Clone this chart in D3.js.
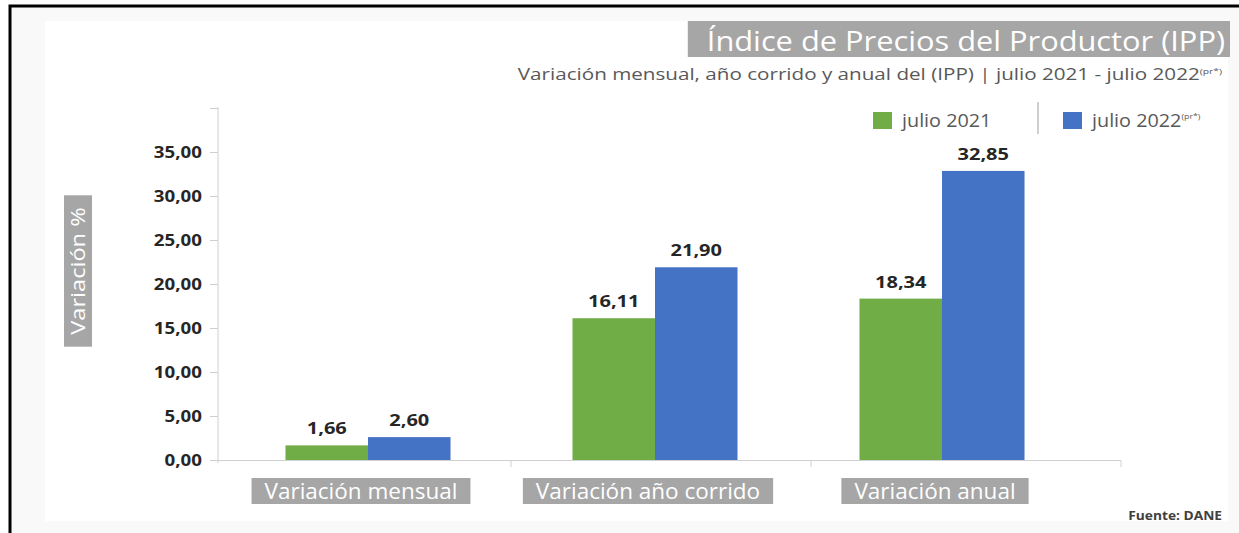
<!DOCTYPE html>
<html>
<head>
<meta charset="utf-8">
<script src="https://cdn.jsdelivr.net/npm/d3@7"></script>
<style>
  body { margin: 0; background: #fff; }
  svg { display: block; font-family: "Open Sans", sans-serif; }
</style>
</head>
<body>
<svg id="chart" width="1239" height="533"></svg>
<script>
// data
var categories = ["Variación mensual", "Variación año corrido", "Variación anual"];
var series = ["julio 2021", "julio 2022"];
var values2021 = [1.66, 16.11, 18.34];
var values2022 = [2.60, 21.90, 32.85];
var yTicks = [0, 5, 10, 15, 20, 25, 30, 35, 40];
var colors = ["#70ad47", "#4472c4"];

var svg = d3.select("#chart");

// es-CO style numbers: 1,66
var locale = d3.formatLocale({decimal: ",", thousands: ".", grouping: [3], currency: ["$", ""]});
var fmt = locale.format(".2f");

// the source picture is a bit stretched sideways, so text gets a horizontal scale
function wideText(parent, x, y, k, anchor) {
  var g = parent.append("g").attr("transform", "translate(" + x + "," + y + ") scale(" + k + ",1)");
  return g.append("text").attr("text-anchor", anchor || "start");
}

// frame + background
svg.append("rect").attr("x", 10).attr("y", 6).attr("width", 1240).attr("height", 540)
  .attr("fill", "#f9f9f9").attr("stroke", "#000").attr("stroke-width", 3);
svg.append("rect").attr("x", 45).attr("y", 21).attr("width", 1183).attr("height", 500).attr("fill", "#fff");

// scales
var y = d3.scaleLinear().domain([0, 40]).range([460, 108]);
var x0 = d3.scaleBand().domain(categories).range([224.5, 1085.5])
  .paddingInner(0.425).paddingOuter(0.2125);
var x1 = d3.scaleBand().domain(series).range([0, x0.bandwidth()]);
// category divisions on the x axis
var xTick = d3.scaleBand().domain(categories).range([211, 1111]);

// y axis
var kTick = 1.17;
var yAxis = d3.axisLeft(y).tickValues(yTicks).tickSize(8).tickPadding(8)
  .tickFormat(function(d) { return d === 40 ? "" : fmt(d); });
var gy = svg.append("g").attr("transform", "translate(218,0)").call(yAxis);
gy.select(".domain").attr("stroke", "#d0d0d0").attr("d", "M0,107V463");
gy.selectAll(".tick line").attr("stroke", "#d0d0d0");
gy.selectAll(".tick text").attr("fill", "#262626").attr("font-size", 16)
  .attr("font-weight", "bold").attr("font-family", "Open Sans")
  .attr("x", -16 / kTick).attr("transform", "scale(" + kTick + ",1)");

// x axis line + ticks
svg.append("line").attr("x1", 210).attr("x2", 1121).attr("y1", 460.5).attr("y2", 460.5)
  .attr("stroke", "#d0d0d0");
svg.selectAll(".xtick").data(categories.slice(1).concat(["end"])).enter().append("line")
  .attr("class", "xtick")
  .attr("x1", function(d) { return d === "end" ? 1121 : xTick(d); })
  .attr("x2", function(d) { return d === "end" ? 1121 : xTick(d); })
  .attr("y1", 460.5).attr("y2", 467).attr("stroke", "#d0d0d0");

// bars
var rows = categories.map(function(c, i) {
  return {cat: c, vals: [{s: series[0], v: values2021[i]}, {s: series[1], v: values2022[i]}]};
});
rows.forEach(function(r) {
  var g = svg.append("g").attr("transform", "translate(" + x0(r.cat) + ",0)");
  g.selectAll("rect").data(r.vals).enter().append("rect")
    .attr("x", function(d) { return x1(d.s); })
    .attr("width", x1.bandwidth())
    .attr("y", function(d) { return y(d.v); })
    .attr("height", function(d) { return y(0) - y(d.v); })
    .attr("fill", function(d, i) { return colors[i]; });
  r.vals.forEach(function(d) {
    wideText(g, x1(d.s) + x1.bandwidth() / 2, y(d.v) - 11, 1.25, "middle")
      .attr("font-size", 16).attr("font-weight", "bold").attr("fill", "#262626")
      .text(fmt(d.v));
  });
});

// category labels in grey boxes
categories.forEach(function(c) {
  var cx = x0(c) + x0.bandwidth() / 2 - 7;
  var g = svg.append("g");
  var t = g.append("text").attr("x", cx).attr("y", 499).attr("text-anchor", "middle")
    .attr("font-size", 22.5).attr("fill", "#fff").text(c);
  var w = t.node().getComputedTextLength();
  g.insert("rect", "text").attr("x", cx - w / 2 - 13).attr("y", 478)
    .attr("width", w + 26).attr("height", 26).attr("fill", "#a6a6a6");
});

// y axis title
var kY = 1.18;
var yt = svg.append("g").attr("transform", "translate(78,271) rotate(-90)");
var ytBox = yt.append("rect");
var ytt = wideText(yt, 0, 7, kY, "middle")
  .attr("font-size", 20).attr("fill", "#fff").text("Variación %");
var ytw = ytt.node().getComputedTextLength() * kY;
ytBox.attr("x", -ytw / 2 - 12).attr("y", -14).attr("width", ytw + 24)
  .attr("height", 28).attr("fill", "#a6a6a6");

// title
var kT = 1.1;
var tBox = svg.append("rect");
var tt = wideText(svg, 1225, 51, kT, "end")
  .attr("font-size", 28).attr("fill", "#fff").text("Índice de Precios del Productor (IPP)");
var tw = tt.node().getComputedTextLength() * kT;
tBox.attr("x", 1225 - tw - 19).attr("y", 21).attr("width", tw + 24)
  .attr("height", 36).attr("fill", "#a6a6a6");

// subtitle
var st = wideText(svg, 1222, 80, 1.29, "end").attr("font-size", 16).attr("fill", "#595959");
st.append("tspan").text("Variación mensual, año corrido y anual del (IPP) | julio 2021 - julio 2022");
st.append("tspan").attr("font-size", 8).attr("dy", -6).text("(pr*)");

// legend
var legX = [873, 1063];
series.forEach(function(s, i) {
  svg.append("rect").attr("x", legX[i]).attr("y", 112).attr("width", 19).attr("height", 17)
    .attr("fill", colors[i]);
  var lt = wideText(svg, legX[i] + 29, 127, 1.1).attr("font-size", 18).attr("fill", "#595959").text(s);
  if (i === 1) lt.append("tspan").attr("font-size", 8).attr("dy", -8).text("(pr*)");
});
svg.append("line").attr("x1", 1038).attr("x2", 1038).attr("y1", 102).attr("y2", 134)
  .attr("stroke", "#bfbfbf").attr("stroke-width", 1.5);

// source
wideText(svg, 1222, 520, 1.1, "end")
  .attr("font-size", 12.5).attr("font-weight", "bold").attr("fill", "#404040").text("Fuente: DANE");
</script>
</body>
</html>
